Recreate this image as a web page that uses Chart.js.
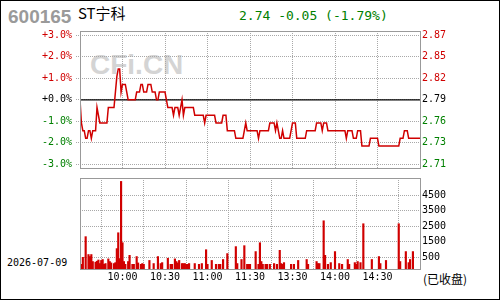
<!DOCTYPE html>
<html>
<head>
<meta charset="utf-8">
<script src="https://cdn.jsdelivr.net/npm/chart.js@4.4.1/dist/chart.umd.min.js"></script>
<style>
body { margin: 0; background: #fff; }
#wrap { position: relative; width: 500px; height: 300px; overflow: hidden; }
#frame { position: absolute; left: 0; top: 0; width: 500px; height: 300px; box-sizing: border-box; border: 1px solid #000; pointer-events: none; }
.t { position: absolute; white-space: nowrap; }
#code { left: 8px; top: 7px; font: bold 19px/19px "Liberation Sans", Arial, sans-serif; color: #9a9a9a; }
#name { left: 78px; top: 5px; font: 15px/15px "Noto Sans CJK SC", sans-serif; color: #000; }
#quote { left: 239px; top: 9px; font: 13px/13px "DejaVu Sans Mono", monospace; color: #008000; }
#mark { left: 90px; top: 51px; font: bold 28px/28px "Liberation Sans", Arial, sans-serif; color: #d4d4d4; }
#date { left: 7px; top: 257px; font: 10px/12px "DejaVu Sans Mono", monospace; color: #000; }
#closed { left: 423px; top: 272px; font: 12px/14px "Noto Sans CJK SC", sans-serif; color: #000; }
canvas { position: absolute; left: 0; }
#priceChart { top: 0; }
#volChart { top: 172px; }
</style>
</head>
<body>
<div id="wrap">
  <div class="t" id="code">600165</div>
  <div class="t" id="name">ST宁科</div>
  <div class="t" id="quote">2.74 -0.05 (-1.79%)</div>
  <div class="t" id="mark">CFi.CN</div>
  <div class="t" id="date">2026-07-09</div>
  <div class="t" id="closed">(已收盘)</div>
  <canvas id="priceChart" width="500" height="172"></canvas>
  <canvas id="volChart" width="500" height="128"></canvas>
  <div id="frame"></div>
</div>
<script>
// 昨收 / 分时数据 (9:30-11:30, 13:00-15:00 -> 分钟 0..240)
const prevClose = 2.79
const pctTicks = [-3, -2, -1, 0, 1, 2, 3]
const pctMin = -3.17
const pctMax = 3.2
const tickMinutes = [30, 60, 90, 120, 150, 180, 210]
const timeLabels = ["10:00", "10:30", "11:00", "11:30", "13:30", "14:00", "14:30"]

const prices = [
  2.79, 2.76, 2.75, 2.75, 2.74, 2.74, 2.75, 2.75, 2.74, 2.75,
  2.75, 2.75, 2.78, 2.77, 2.76, 2.76, 2.76, 2.76, 2.76, 2.76,
  2.78, 2.78, 2.78, 2.78, 2.78, 2.80, 2.82, 2.83, 2.83, 2.80,
  2.81, 2.81, 2.81, 2.80, 2.79, 2.79, 2.79, 2.79, 2.79, 2.79,
  2.80, 2.80, 2.80, 2.81, 2.81, 2.80, 2.80, 2.80, 2.81, 2.81,
  2.81, 2.80, 2.80, 2.80, 2.79, 2.79, 2.80, 2.80, 2.80, 2.80,
  2.80, 2.79, 2.78, 2.78, 2.78, 2.78, 2.77, 2.78, 2.78, 2.78,
  2.77, 2.78, 2.79, 2.77, 2.78, 2.78, 2.78, 2.78, 2.78, 2.78,
  2.78, 2.77, 2.77, 2.77, 2.77, 2.77, 2.77, 2.77, 2.76, 2.77,
  2.77, 2.77, 2.77, 2.77, 2.77, 2.77, 2.76, 2.76, 2.76, 2.76,
  2.76, 2.77, 2.77, 2.77, 2.75, 2.75, 2.75, 2.75, 2.75, 2.75,
  2.74, 2.74, 2.74, 2.74, 2.74, 2.74, 2.75, 2.76, 2.75, 2.75,
  2.75, 2.75, 2.75, 2.75, 2.75, 2.75, 2.74, 2.75, 2.75, 2.75,
  2.75, 2.75, 2.75, 2.75, 2.76, 2.76, 2.76, 2.76, 2.75, 2.76,
  2.75, 2.74, 2.74, 2.75, 2.74, 2.74, 2.74, 2.74, 2.74, 2.75,
  2.76, 2.76, 2.76, 2.74, 2.74, 2.74, 2.74, 2.74, 2.74, 2.74,
  2.75, 2.75, 2.75, 2.75, 2.75, 2.75, 2.75, 2.76, 2.76, 2.76,
  2.76, 2.75, 2.76, 2.76, 2.76, 2.75, 2.75, 2.75, 2.75, 2.75,
  2.75, 2.75, 2.75, 2.75, 2.75, 2.75, 2.75, 2.75, 2.74, 2.75,
  2.75, 2.75, 2.75, 2.74, 2.74, 2.74, 2.75, 2.75, 2.75, 2.73,
  2.73, 2.73, 2.73, 2.73, 2.73, 2.74, 2.74, 2.74, 2.74, 2.74,
  2.74, 2.73, 2.73, 2.73, 2.73, 2.73, 2.73, 2.73, 2.73, 2.73,
  2.73, 2.73, 2.73, 2.73, 2.73, 2.73, 2.74, 2.74, 2.74, 2.75,
  2.75, 2.75, 2.74, 2.74, 2.74, 2.74, 2.74, 2.74, 2.74, 2.74,
  2.74
]

// 成交量 (只列出有量的分钟)
const volMinutes = [
  1, 2, 4, 6, 7, 8, 9, 11, 12, 13, 14, 15, 16, 17, 18, 20, 21, 22, 24, 25,
  26, 27, 28, 29, 30, 31, 32, 34, 35, 37, 38, 40, 41, 43, 44, 45, 49, 52, 55, 57,
  58, 62, 64, 65, 67, 68, 69, 70, 72, 73, 74, 75, 76, 77, 81, 84, 86, 89, 90, 93,
  96, 98, 99, 101, 104, 110, 111, 114, 116, 118, 119, 120,
  124, 126, 127, 128, 129, 131, 132, 134, 137, 139, 141, 142, 143, 144, 149, 151, 154, 160,
  161, 167, 168, 169, 172, 173, 175, 177, 180, 183, 185, 189, 190, 194, 195, 196, 198, 200,
  206, 211, 212, 216, 225, 226, 230, 232, 233, 235
]
const volumes = [
  50, 500, 1830, 680, 550, 680, 230, 190, 250, 330, 100, 300, 360, 50, 100, 400, 230, 140, 100, 160,
  1060, 2080, 420, 5380, 1440, 230, 50, 230, 630, 50, 50, 550, 140, 50, 100, 50, 300, 100, 550, 100,
  160, 440, 50, 50, 400, 230, 140, 300, 100, 100, 100, 50, 50, 100, 100, 50, 100, 990, 50, 300,
  50, 50, 50, 360, 740, 1190, 100, 360, 1250, 50, 50, 50,
  870, 50, 1440, 230, 50, 50, 50, 50, 100, 50, 950, 100, 50, 160, 50, 50, 300, 360,
  50, 230, 100, 100, 2850, 630, 50, 160, 870, 100, 50, 360, 50, 160, 50, 230, 160, 2660,
  360, 550, 100, 300, 2660, 230, 870, 160, 360, 870
]
const volTicks = [500, 1500, 2500, 3500, 4500]
const volMin = -250
const volMax = 5600

const red = "#d00000"
const green = "#008000"
const gridColor = "#a8a8a8"
const tickFont = { family: "DejaVu Sans Mono", size: 10 }

const boxPlugin = {
  id: "box",
  afterDraw(chart) {
    const { ctx, chartArea: a } = chart
    ctx.save()
    ctx.strokeStyle = "#999"
    ctx.lineWidth = 1
    ctx.strokeRect(a.left + 0.5, a.top + 0.5, a.right - a.left, a.bottom - a.top)
    ctx.restore()
  }
}

function fixTicks(values) {
  return scale => { scale.ticks = values.map(v => ({ value: v })) }
}

// fixed axis size, no extra label padding pushed into the layout
function fixSize(w, h) {
  return s => {
    if (w !== null) s.width = w
    if (h !== null) s.height = h
    s.paddingTop = 0
    s.paddingBottom = 0
    s.paddingLeft = 0
    s.paddingRight = 0
  }
}

const priceData = prices.map((p, i) => ({ x: i, y: p }))

new Chart(document.getElementById("priceChart"), {
  type: "line",
  data: {
    datasets: [
      {
        data: priceData,
        yAxisID: "price",
        borderColor: red,
        borderWidth: 1.5,
        pointRadius: 0,
        tension: 0
      },
      {
        data: [{ x: 0, y: prevClose }, { x: 240, y: prevClose }],
        yAxisID: "price",
        borderColor: "#000",
        borderWidth: 1.3,
        pointRadius: 0
      }
    ]
  },
  options: {
    responsive: false,
    animation: false,
    events: [],
    layout: { padding: { top: 31, bottom: 4, left: 0, right: 0 } },
    plugins: { legend: { display: false }, tooltip: { enabled: false } },
    scales: {
      x: {
        type: "linear",
        min: 0,
        max: 240,
        offset: false,
        afterBuildTicks: fixTicks(tickMinutes),
        afterFit: fixSize(null, 0),
        ticks: { display: false },
        grid: { color: gridColor, drawTicks: false },
        border: { display: false, dash: [1, 1] }
      },
      pct: {
        position: "left",
        min: pctMin,
        max: pctMax,
        afterBuildTicks: fixTicks(pctTicks),
        afterFit: fixSize(80, null),
        ticks: {
          padding: 4,
          font: tickFont,
          color: c => c.tick.value > 0 ? red : (c.tick.value < 0 ? green : "#000"),
          callback: v => (v >= 0 ? "+" : "") + v.toFixed(1) + "%"
        },
        grid: { color: gridColor, tickLength: 4, tickColor: gridColor, tickBorderDash: [1, 1] },
        border: { display: false, dash: [1, 1] }
      },
      price: {
        position: "right",
        min: prevClose * (1 + pctMin / 100),
        max: prevClose * (1 + pctMax / 100),
        afterBuildTicks: fixTicks(pctTicks.map(p => prevClose * (1 + p / 100))),
        afterFit: fixSize(80, null),
        ticks: {
          padding: 2,
          font: tickFont,
          color: c => Math.abs(c.tick.value - prevClose) < 0.001 ? "#000" : (c.tick.value > prevClose ? red : green),
          callback: v => v.toFixed(2)
        },
        grid: { drawOnChartArea: false, drawTicks: false },
        border: { display: false }
      }
    }
  },
  plugins: [boxPlugin]
})

const volData = volMinutes.map((m, i) => ({ x: m, y: volumes[i] }))

new Chart(document.getElementById("volChart"), {
  type: "bar",
  data: {
    datasets: [{
      data: volData,
      backgroundColor: red,
      barThickness: 1.5,
      base: volMin
    }]
  },
  options: {
    responsive: false,
    animation: false,
    events: [],
    layout: { padding: { top: 6, bottom: 17, left: 80, right: 0 } },
    plugins: { legend: { display: false }, tooltip: { enabled: false } },
    scales: {
      x: {
        type: "linear",
        min: 0,
        max: 240,
        offset: false,
        afterBuildTicks: fixTicks(tickMinutes),
        afterFit: fixSize(null, 14),
        ticks: {
          padding: 2,
          font: tickFont,
          color: "#000",
          maxRotation: 0,
          autoSkip: false,
          callback: v => timeLabels[tickMinutes.indexOf(v)]
        },
        grid: { color: gridColor, drawTicks: false },
        border: { display: false, dash: [1, 1] }
      },
      y: {
        position: "right",
        min: volMin,
        max: volMax,
        afterBuildTicks: fixTicks(volTicks),
        afterFit: fixSize(80, null),
        ticks: { padding: 2, font: tickFont, color: "#000", callback: v => String(v) },
        grid: { color: gridColor, drawTicks: false },
        border: { display: false, dash: [1, 1] }
      }
    }
  },
  plugins: [boxPlugin]
})
</script>
</body>
</html>
